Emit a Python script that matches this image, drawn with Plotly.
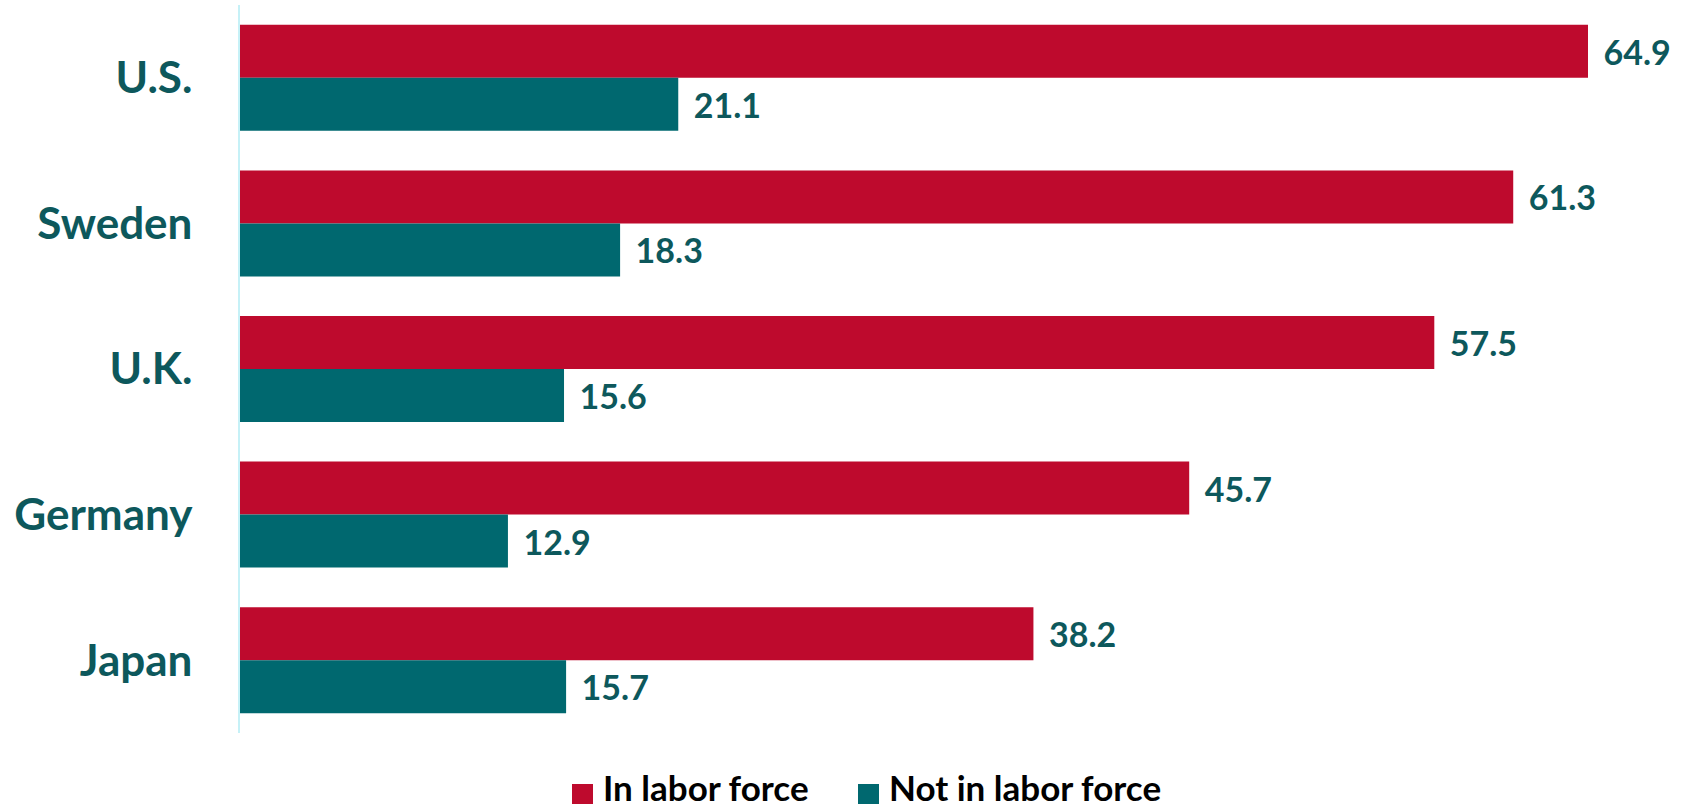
import plotly.graph_objects as go

countries = ["U.S.", "Sweden", "U.K.", "Germany", "Japan"]
in_labor_force = [64.9, 61.3, 57.5, 45.7, 38.2]
not_in_labor_force = [21.1, 18.3, 15.6, 12.9, 15.7]
series_names = ["In labor force", "Not in labor force"]

RED = "#BE0A2D"
TEAL = "#00686F"
TEXT_TEAL = "#0D585C"
FONT = "Lato"

# page body margin is removed by a post script, so the figure fills the window
W, H = 1688, 809
ML, MR, MT, MB = 240, 0, 5, 809 - 733
PW, PH = W - ML - MR, H - MT - MB

PX_PER_UNIT = 1348 / 64.9          # horizontal scale
x_max = PW / PX_PER_UNIT


def px_x(px):
    return (px - ML) / PW


def px_y(py):
    return (H - MB - py) / PH


fig = go.Figure()
for name, vals, col in [(series_names[0], in_labor_force, RED),
                        (series_names[1], not_in_labor_force, TEAL)]:
    fig.add_trace(go.Bar(
        y=countries, x=vals, name=name, orientation="h",
        marker=dict(color=col, line=dict(width=0)),
        text=vals, texttemplate="\u00a0\u2009%{x:.1f}",
        textposition="outside", constraintext="none", cliponaxis=False,
        textfont=dict(family=FONT, size=34, color=TEXT_TEAL, weight="bold"),
        showlegend=False, hoverinfo="skip",
    ))

# manual legend (squares + labels) placed in paper coordinates
legend_items = [(series_names[0], RED, 572), (series_names[1], TEAL, 858)]
for name, col, x0 in legend_items:
    fig.add_shape(type="rect", xref="paper", yref="paper",
                  x0=px_x(x0), x1=px_x(x0 + 21), y0=px_y(804), y1=px_y(784),
                  fillcolor=col, line=dict(width=0))
    fig.add_annotation(xref="paper", yref="paper", x=px_x(x0 + 30), y=px_y(787),
                       xanchor="left", yanchor="middle", showarrow=False,
                       text=name, borderpad=0,
                       font=dict(family=FONT, size=35, color="black", weight="bold"))

fig.update_layout(
    width=W, height=H,
    margin=dict(l=ML, r=MR, t=MT, b=MB, autoexpand=False),
    paper_bgcolor="white", plot_bgcolor="white",
    barmode="group", bargap=0.272, bargroupgap=0,
    font=dict(family=FONT, color=TEXT_TEAL),
    showlegend=False,
    xaxis=dict(range=[0, x_max], visible=False, showgrid=False, zeroline=False,
               automargin=False),
    yaxis=dict(
        autorange="reversed", showline=True, linecolor="#C6F1F7", linewidth=1.5,
        ticks="", ticklabelstandoff=37, showgrid=False, zeroline=False,
        automargin=False,
        tickfont=dict(family=FONT, size=44, color=TEXT_TEAL, weight="bold"),
    ),
)

fig.write_html(
    "out.html",
    config={"displayModeBar": False},
    post_script="document.body.style.margin='0';document.body.style.overflow='hidden';",
)
